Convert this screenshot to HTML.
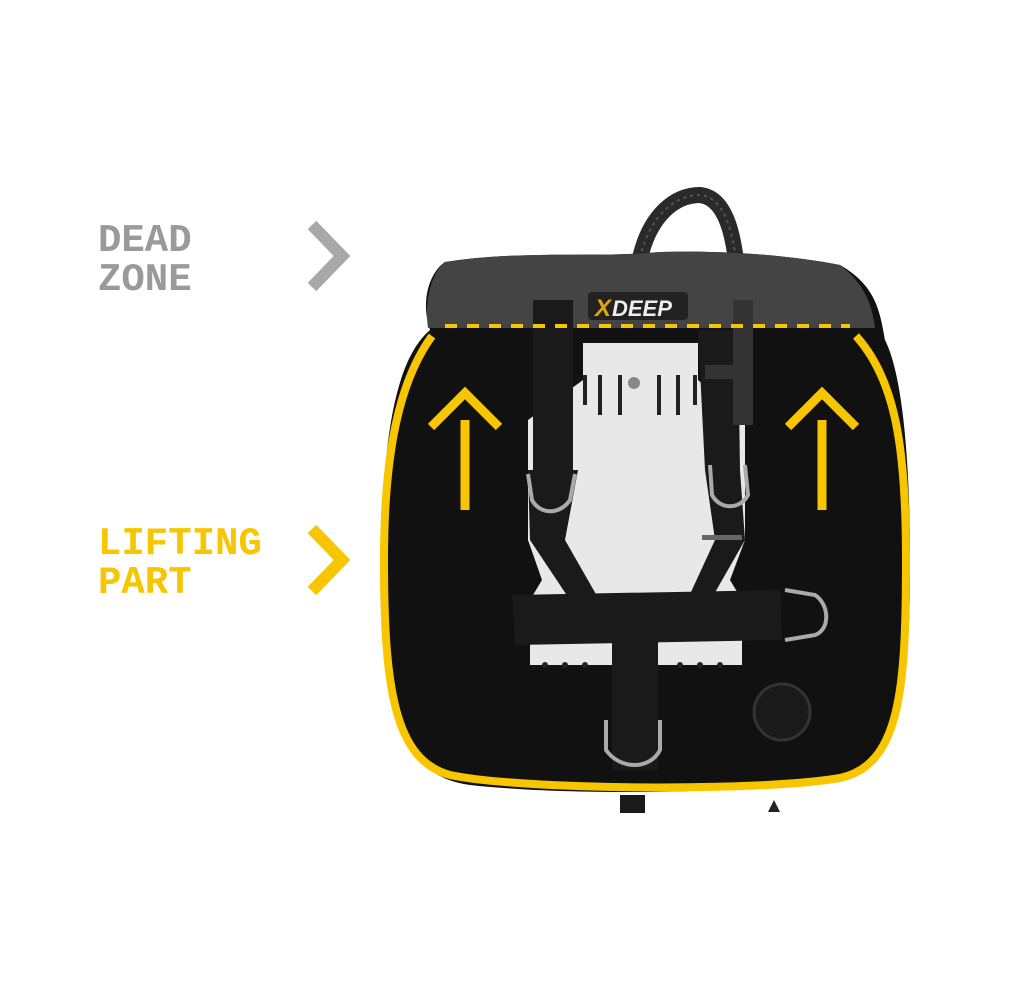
<!DOCTYPE html>
<html><head><meta charset="utf-8"><style>
html,body{margin:0;padding:0;background:#fff;width:1025px;height:999px;overflow:hidden}
svg{display:block}
</style></head><body>
<svg width="1025" height="999" viewBox="0 0 1025 999" xmlns="http://www.w3.org/2000/svg">
<g font-family="Liberation Mono, monospace" font-size="39" font-weight="bold">
<text x="98" y="251" fill="#9a9a9a">DEAD</text>
<text x="98" y="290" fill="#9a9a9a">ZONE</text>
<text x="98" y="554" fill="#f7c600">LIFTING</text>
<text x="98" y="593" fill="#f7c600">PART</text>
</g>
<polyline points="312,225 342,256 312,287" fill="none" stroke="#a8a8a8" stroke-width="12"/>
<polyline points="312,529 342,560 312,591" fill="none" stroke="#f7c600" stroke-width="12"/>
<!-- hose -->
<path d="M640,258 C650,215 675,195 700,195 C728,198 738,240 740,320" fill="none" stroke="#2a2a2a" stroke-width="16"/>
<path d="M640,258 C650,215 675,195 700,195 C728,198 738,240 740,320" fill="none" stroke="#555" stroke-width="2" stroke-dasharray="3,4"/>
<!-- body -->
<path d="M445,262 C520,250 600,258 660,252 C720,250 790,255 840,265 C875,285 880,310 885,340 C905,380 910,480 910,560 C910,680 905,760 830,780 C730,795 560,795 470,785 C395,775 383,700 382,560 C382,440 395,360 430,330 C420,300 430,272 445,262 Z" fill="#111"/>
<path d="M445,262 C520,250 600,258 660,252 C720,250 790,255 840,265 C860,280 872,300 875,328 L428,328 C424,300 432,272 445,262 Z" fill="#444"/>
<!-- plate -->
<path d="M583,343 L698,343 L698,380 L745,420 L745,540 L730,580 L742,600 L742,665 L530,665 L530,600 L542,580 L528,540 L528,420 L583,380 Z" fill="#e8e8e8"/>
<g fill="#222">
<rect x="598" y="375" width="4" height="40"/><rect x="618" y="375" width="4" height="40"/><rect x="657" y="375" width="4" height="40"/><rect x="676" y="375" width="4" height="40"/>
<rect x="583" y="375" width="4" height="30"/><rect x="693" y="375" width="4" height="30"/>
<circle cx="545" cy="665" r="3"/><circle cx="565" cy="665" r="3"/><circle cx="585" cy="665" r="3"/><circle cx="680" cy="665" r="3"/><circle cx="700" cy="665" r="3"/><circle cx="720" cy="665" r="3"/>
</g>
<circle cx="634" cy="383" r="6" fill="#888"/>
<!-- straps -->
<rect x="533" y="300" width="40" height="170" fill="#1a1a1a"/>
<path d="M528,470 L578,470 L565,540 L605,610 L580,615 L530,540 Z" fill="#1a1a1a"/>
<path d="M698,330 L738,330 L740,470 L745,540 L705,610 L685,605 L715,540 L705,470 Z" fill="#1a1a1a"/>
<rect x="702" y="535" width="40" height="5" fill="#666"/>
<path d="M512,595 L780,590 L782,640 L515,645 Z" fill="#1a1a1a"/>
<rect x="612" y="605" width="46" height="165" fill="#1a1a1a"/>
<rect x="620" y="795" width="25" height="18" fill="#1a1a1a"/>
<g fill="none" stroke="#aaa" stroke-width="4">
<path d="M528,474 L532,500 C540,515 560,515 570,500 L575,474"/>
<path d="M710,465 L712,495 C720,510 740,510 748,495 L745,465"/>
<path d="M785,590 L815,595 C830,605 830,630 815,635 L785,640"/>
<path d="M606,720 L606,750 C620,770 650,770 660,750 L660,720"/>
</g>
<circle cx="782" cy="712" r="28" fill="#1a1a1a" stroke="#333" stroke-width="3"/>
<!-- logo -->
<rect x="588" y="292" width="100" height="28" rx="4" fill="#222"/>
<text x="595" y="316" font-family="Liberation Sans, sans-serif" font-weight="bold" font-style="italic" font-size="24" fill="#e0a800">X</text>
<text x="612" y="316" font-family="Liberation Sans, sans-serif" font-weight="bold" font-style="italic" font-size="22" fill="#eee">DEEP</text>
<!-- valve -->
<rect x="733" y="300" width="20" height="125" fill="#333"/>
<rect x="705" y="365" width="35" height="14" fill="#333"/>
<!-- yellow outline -->
<path d="M432,336 C400,380 384,450 384,560 C384,690 395,760 450,775 C520,790 760,792 840,778 C900,765 906,690 906,560 C906,450 896,380 856,336" fill="none" stroke="#f7c600" stroke-width="8"/>
<line x1="445" y1="326" x2="850" y2="326" stroke="#f7c600" stroke-width="4" stroke-dasharray="12,10"/>
<!-- arrows -->
<g fill="none" stroke="#f7c600" stroke-width="9">
<line x1="465" y1="420" x2="465" y2="510"/><polyline points="431,427 465,393 499,427"/>
<line x1="822" y1="420" x2="822" y2="510"/><polyline points="788,427 822,393 856,427"/>
</g>
<path d="M768,812 L774,800 L780,812 Z" fill="#222"/>
</svg>
</body></html>
